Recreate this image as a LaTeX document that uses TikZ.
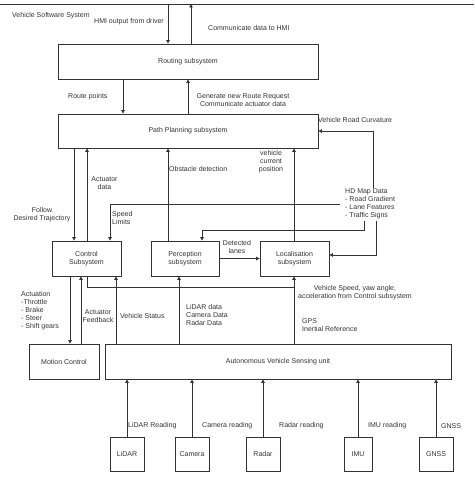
\documentclass[tikz,border=0pt]{standalone}
\usepackage{fontspec}
\setmainfont{Liberation Sans}
\usetikzlibrary{arrows.meta}
\definecolor{lncol}{HTML}{333333}
\begin{document}
\begin{tikzpicture}[x=1pt,y=-1pt,
 box/.style={draw=lncol, line width=0.8pt, inner sep=0pt, align=center, font=\fontsize{7}{8}\selectfont, text=lncol},
 lbl/.style={inner sep=0pt, font=\fontsize{7}{8}\selectfont, text=lncol},
 arr/.style={draw=lncol, line width=0.8pt, -{Triangle[length=3.5pt,width=3.5pt]}},
 plain/.style={draw=lncol, line width=0.8pt}]
\useasboundingbox (0,0) rectangle (474,484);
% frame top
\coordinate (tl) at (0,4);
\coordinate (tr) at (474,4);
\draw[plain] (tl) -- (tr);
% boxes
\node[box, minimum width=260pt, minimum height=35pt] (routing) at (188,61.5) {Routing subsystem};
\node[box, minimum width=260pt, minimum height=34pt] (path) at (188,131) {Path Planning subsystem};
\node[box, minimum width=69pt, minimum height=35pt] (control) at (86.5,258.5) {Control\\Subsystem};
\node[box, minimum width=68pt, minimum height=35pt] (perc) at (185,258.5) {Perception\\subsystem};
\node[box, minimum width=69pt, minimum height=35pt] (loc) at (294.5,258.5) {Localisation\\subsystem};
\node[box, minimum width=70pt, minimum height=35pt] (motion) at (64,361.5) {Motion Control};
\node[box, minimum width=346pt, minimum height=35pt] (avsu) at (278,361.5) {Autonomous Vehicle Sensing unit};
\node[box, minimum width=34pt, minimum height=34pt] (lidar) at (127,454) {LiDAR};
\node[box, minimum width=34pt, minimum height=34pt] (camera) at (192,454) {Camera};
\node[box, minimum width=34pt, minimum height=34pt] (radar) at (263,454) {Radar};
\node[box, minimum width=28pt, minimum height=34pt] (imu) at (358,454) {IMU};
\node[box, minimum width=34pt, minimum height=34pt] (gnss) at (436,454) {GNSS};
% HD map text
\node[lbl, align=left, anchor=west] (hd) at (345,204) {HD Map Data\\- Road Gradient\\- Lane Features\\- Traffic Signs};
% columns
\coordinate (c168) at (168,4);
\coordinate (c191) at (191,4);
\coordinate (c123) at (123,0);
\coordinate (c188) at (188,0);
\coordinate (c373) at (373,0);
\coordinate (c110) at (110,0);
\coordinate (c364) at (364,0);
\coordinate (c376) at (376,0);
\coordinate (c202) at (202,230);
\coordinate (l255) at (376,255);
\coordinate (c74) at (74,0);
\coordinate (c87) at (87,0);
\coordinate (c294) at (294,0);
\coordinate (c70) at (70,0);
\coordinate (c81) at (81,0);
\coordinate (c116) at (116,0);
\coordinate (c179) at (179,0);
\coordinate (vs) at (294,287);
% connectors
\draw[arr] (c168) -- (c168 |- routing.north);
\draw[arr] (c191 |- routing.north) -- (c191);
\draw[arr] (c123 |- routing.south) -- (c123 |- path.north);
\draw[arr] (c188 |- path.north) -- (c188 |- routing.south);
\draw[arr] ([yshift=1pt]hd.north -| c373) |- (path.east);
\draw[arr] ([xshift=-5pt]hd.west) -- (c110 |- hd.west) -- (c110 |- control.north);
\draw[arr] ([yshift=-2pt]hd.south -| c364) |- (c202) -- (c202 |- perc.north);
\draw[arr] ([yshift=-2pt]hd.south -| c376) -- (l255) -- (l255 -| loc.east);
\draw[arr] (c74 |- path.south) -- (c74 |- control.north);
\draw[arr] (c87 |- control.north) -- (c87 |- path.south);
\draw[arr] (perc.north -| c168) -- (path.south -| c168);
\draw[arr] (c294 |- loc.north) -- (c294 |- path.south);
\draw[arr] (perc.east) -- (loc.west);
\draw[arr] (c70 |- control.south) -- (c70 |- motion.north);
\draw[arr] (c81 |- motion.north) -- (c81 |- control.south);
\draw[arr] (c116 |- avsu.north) -- (c116 |- control.south);
\draw[plain] (c87 |- control.south) |- (vs);
\draw[arr] (c294 |- avsu.north) -- (c294 |- loc.south);
\draw[arr] (c179 |- avsu.north) -- (c179 |- perc.south);
\draw[arr] (lidar.north) -- (lidar.north |- avsu.south);
\draw[arr] (camera.north) -- (camera.north |- avsu.south);
\draw[arr] (radar.north) -- (radar.north |- avsu.south);
\draw[arr] (imu.north) -- (imu.north |- avsu.south);
\draw[arr] (gnss.north) -- (gnss.north |- avsu.south);
% labels
\node[lbl, anchor=west] (t1) at (12,16) {Vehicle Software System};
\node[lbl, anchor=west] (t2) at (94,22) {HMI output from driver};
\node[lbl, anchor=west] (t3) at (208,28) {Communicate data to HMI};
\node[lbl, anchor=west] (t4) at (68,97) {Route points};
\node[lbl, align=center] (t5) at (243,100) {Generate new Route Request\\Communicate actuator data};
\node[lbl, anchor=west] (t6) at (318,120) {Vehicle Road Curvature};
\node[lbl, align=center] (t7) at (104.5,183) {Actuator\\data};
\node[lbl, anchor=west] (t8) at (169,169) {Obstacle detection};
\node[lbl, align=center] (t9) at (271,162) {vehicle\\current\\position};
\node[lbl, align=left, anchor=west] (t10) at (112,218) {Speed\\Limits};
\node[lbl, align=center] (t11) at (42,215) {Follow\\Desired Trajectory};
\node[lbl, align=center] (t12) at (237,247) {Detected\\lanes};
\node[lbl, align=center] (t13) at (355,293) {Vehicle Speed, yaw angle,\\acceleration from Control subsystem};
\node[lbl, align=left, anchor=west] (t14) at (21,311) {Actuation\\-Throttle\\- Brake\\- Steer\\- Shift gears};
\node[lbl, align=center] (t15) at (98,316) {Actuator\\Feedback};
\node[lbl, anchor=west] (t16) at (120,316) {Vehicle Status};
\node[lbl, align=left, anchor=west] (t17) at (186,315) {LiDAR data\\Camera Data\\Radar Data};
\node[lbl, align=left, anchor=west] (t18) at (302,325) {GPS\\Inertial Reference};
\node[lbl, anchor=west] (t19) at (128,426) {LiDAR Reading};
\node[lbl, anchor=west] (t20) at (202,426) {Camera reading};
\node[lbl, anchor=west] (t21) at (279,426) {Radar reading};
\node[lbl, anchor=west] (t22) at (368,426) {IMU reading};
\node[lbl, anchor=west] (t23) at (441,426) {GNSS};
\end{tikzpicture}
\end{document}
